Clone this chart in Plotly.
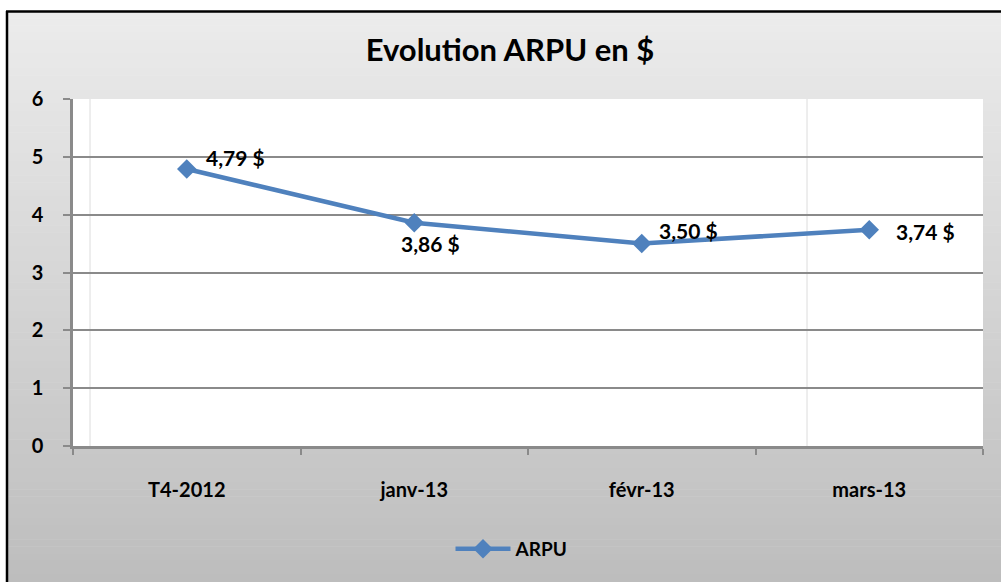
import plotly.graph_objects as go

categories = ["T4-2012", "janv-13", "févr-13", "mars-13"]
arpu = [4.79, 3.86, 3.50, 3.74]
y_ticks = [0, 1, 2, 3, 4, 5, 6]

W, H = 1001, 582
ML, MR, MT, MB = 73, 18, 99, 136
PW, PH = W - ML - MR, H - MT - MB

def px_x(px):
    return (px - ML) / PW

def px_y(py):
    return (H - MB - py) / PH

FONT = "Lato"
BLUE = "#4F81BD"
GRID = "#8a8a8a"

fig = go.Figure()
fig.add_trace(go.Scatter(
    x=categories, y=arpu, mode="lines+markers", name="ARPU",
    line=dict(color=BLUE, width=4.5),
    marker=dict(symbol="diamond", size=15, color=BLUE),
))

# gradient background as thin strips
shapes = []
top_c, bot_c = (236, 236, 236), (189, 189, 189)
y0, y1 = 11, 582
n = 80
for i in range(n):
    a = y0 + (y1 - y0) * i / n
    b = y0 + (y1 - y0) * (i + 1) / n
    t = (i + 0.5) / n
    c = tuple(round(top_c[k] + (bot_c[k] - top_c[k]) * t) for k in range(3))
    shapes.append(dict(type="rect", xref="paper", yref="paper", layer="below",
                       x0=px_x(7), x1=px_x(W + 5), y0=px_y(b + 0.5), y1=px_y(a),
                       line=dict(width=0), fillcolor="rgb(%d,%d,%d)" % c))
# white plot area
shapes.append(dict(type="rect", xref="paper", yref="paper", layer="below",
                   x0=0, x1=1, y0=0, y1=1, line=dict(width=0), fillcolor="white"))
# faint vertical lines
for xx in (90, 807):
    shapes.append(dict(type="line", xref="paper", yref="paper", layer="below",
                       x0=px_x(xx), x1=px_x(xx), y0=0, y1=1,
                       line=dict(color="#dcdcdc", width=1)))
# chart border (left & top)
shapes.append(dict(type="line", xref="paper", yref="paper", layer="above",
                   x0=px_x(7), x1=px_x(7), y0=px_y(11), y1=px_y(H + 5),
                   line=dict(color="black", width=2.5)))
shapes.append(dict(type="line", xref="paper", yref="paper", layer="above",
                   x0=px_x(6), x1=px_x(W + 5), y0=px_y(11.5), y1=px_y(11.5),
                   line=dict(color="black", width=2.5)))

# data labels
offsets = [("left", 17, 11), ("center", 16, -21), ("left", 15, 13), ("left", 25, -2)]
annotations = []
for cat, v, (xa, xs, ys) in zip(categories, arpu, offsets):
    annotations.append(dict(
        x=cat, y=v, xref="x", yref="y", showarrow=False,
        text=("%.2f" % v).replace(".", ",") + " $",
        xanchor=xa, yanchor="middle", xshift=xs, yshift=ys,
        font=dict(family=FONT, size=21, color="black", weight="bold"),
    ))

fig.update_layout(
    width=W, height=H,
    margin=dict(l=ML, r=MR, t=MT, b=MB),
    paper_bgcolor="white", plot_bgcolor="rgba(0,0,0,0)",
    shapes=shapes, annotations=annotations,
    title=dict(text="Evolution ARPU en $", x=(510 - ML) / PW, xanchor="center",
               xref="paper", y=1 - 50 / H, yanchor="middle",
               font=dict(family=FONT, size=31, color="black", weight="bold")),
    showlegend=True,
    legend=dict(orientation="h", x=(512 - ML) / PW, xanchor="center",
                y=px_y(549), yanchor="middle", bgcolor="rgba(0,0,0,0)",
                itemwidth=55,
                font=dict(family=FONT, size=19, color="black", weight="bold")),
    xaxis=dict(
        type="category", tickson="boundaries", ticks="outside", ticklen=6,
        tickwidth=2, tickcolor=GRID, showline=True, linecolor=GRID, linewidth=2.5,
        showgrid=False, range=[-0.5, 3.5], ticklabelstandoff=24,
        tickfont=dict(family=FONT, size=20, color="black", weight="bold"),
    ),
    yaxis=dict(
        range=[0, 6], tickvals=y_ticks, ticks="outside", ticklen=7, tickwidth=2,
        tickcolor=GRID, showline=True, linecolor=GRID, linewidth=2.5,
        showgrid=True, gridcolor=GRID, gridwidth=2, zeroline=False,
        ticklabelstandoff=16,
        tickfont=dict(family=FONT, size=20, color="black", weight="bold"),
    ),
)

fig.write_html("out.html", config={"displayModeBar": False},
               post_script="document.body.style.margin='0';document.body.style.overflow='hidden';")
